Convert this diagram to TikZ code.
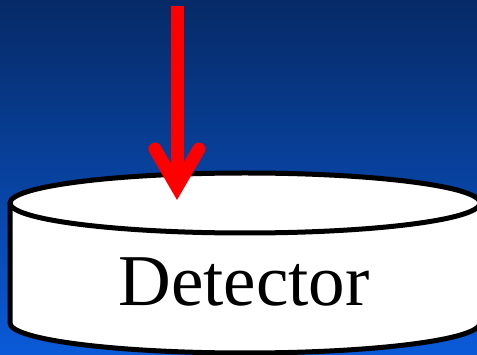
\documentclass[tikz,border=0pt]{standalone}
\usepackage{fontspec}
\setmainfont{Liberation Serif}
\definecolor{bgtop}{HTML}{062A66}
\definecolor{bgbot}{HTML}{0A5AD8}
\definecolor{arrred}{HTML}{FF0000}
\tikzset{
  cyl/.style={draw=black, line width=5pt, fill=white},
  redline/.style={draw=arrred, line width=13pt},
}
\begin{document}
\begin{tikzpicture}[x=1pt,y=-1pt]
\useasboundingbox (0,0) rectangle (477,355);
\shade[top color=bgtop, bottom color=bgbot] (0,0) rectangle (477,355);
% cylinder body
\path[cyl] (10,203) -- (10,323) arc[start angle=180, end angle=0, x radius=235, y radius=30] -- (480,203);
\path[cyl] (245,203) ellipse[x radius=235, y radius=30];
\node[font=\fontsize{73}{80}\selectfont, inner sep=0pt] (det) at (244,282) {Detector};
% arrow
\coordinate (atop) at (177,6);
\coordinate (atip) at (177,187);
\coordinate (bl) at (155,149);
\coordinate (br) at (199,149);
\draw[redline] (atop) -- (177,185);
\draw[redline, line cap=round, line join=miter, miter limit=10] (bl) -- (atip) -- (br);
\end{tikzpicture}
\end{document}
